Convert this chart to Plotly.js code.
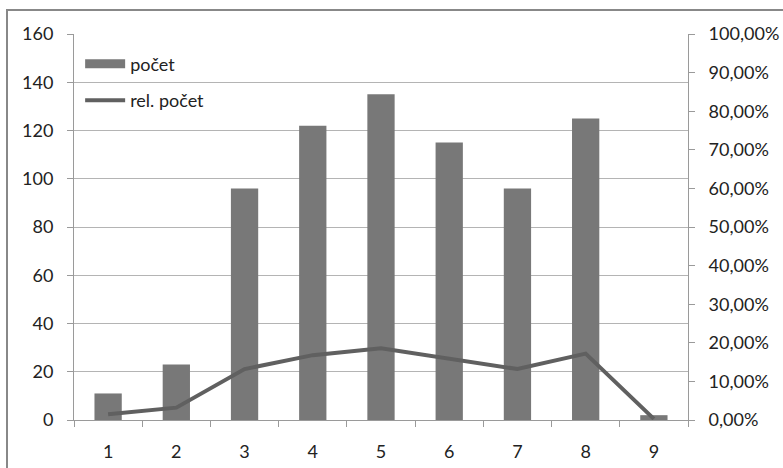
<!DOCTYPE html>
<html>
<head>
<meta charset="utf-8">
<script src="https://cdn.plot.ly/plotly-3.0.1.min.js"></script>
<style>
  html, body { margin: 0; padding: 0; background: #fff; }
  #wrap { position: relative; width: 783px; height: 468px; overflow: hidden; }
  #chart { position: absolute; left: 0; top: 0; width: 783px; height: 468px; }
  #frame { position: absolute; left: 6px; top: 9px; width: 820px; height: 520px;
           border: 2px solid #888; pointer-events: none; }
</style>
</head>
<body>
<div id="wrap"><div id="chart"></div><div id="frame"></div></div>
<script>
const categories = ['1', '2', '3', '4', '5', '6', '7', '8', '9'];
const pocet = [11, 23, 96, 122, 135, 115, 96, 125, 2];
const relPocet = [0.015, 0.032, 0.132, 0.168, 0.186, 0.159, 0.132, 0.172, 0.003];
const leftTicks = [0, 20, 40, 60, 80, 100, 120, 140, 160];
const rightTicks = [0, 0.1, 0.2, 0.3, 0.4, 0.5, 0.6, 0.7, 0.8, 0.9, 1.0];
const seriesNames = ['počet', 'rel. počet'];

const font = { family: 'Lato, "Open Sans", sans-serif', size: 18, color: '#222' };

const traces = [
  {
    type: 'bar', name: seriesNames[0], x: categories, y: pocet,
    marker: { color: '#787878', line: { width: 0 } },
    showlegend: false
  },
  {
    // legend key for the bar series (wide flat box like the original)
    type: 'scatter', mode: 'lines', name: seriesNames[0], x: [null], y: [null],
    line: { color: '#787878', width: 9 }, legendgroup: 'a', hoverinfo: 'skip'
  },
  {
    type: 'scatter', mode: 'lines', name: seriesNames[1], x: categories, y: relPocet,
    yaxis: 'y2', line: { color: '#606060', width: 4 },
    legendgroup: 'b'
  }
];

const layout = {
  width: 783, height: 468,
  margin: { l: 74, r: 95, t: 34, b: 48 },
  paper_bgcolor: '#fff', plot_bgcolor: '#fff',
  font: font,
  separators: ', ',
  bargap: 0.6,
  showlegend: true,
  legend: {
    x: 0.01, y: 0.97, xanchor: 'left', yanchor: 'top',
    bgcolor: 'rgba(0,0,0,0)', font: font,
    tracegroupgap: 10, itemwidth: 40
  },
  xaxis: {
    type: 'category', tickson: 'boundaries',
    ticks: 'outside', ticklen: 6, tickcolor: '#9a9a9a',
    ticklabelstandoff: 15,
    showline: true, linecolor: '#9a9a9a', linewidth: 1,
    showgrid: false, zeroline: false, fixedrange: true
  },
  yaxis: {
    range: [0, 160], tickvals: leftTicks,
    ticks: 'outside', ticklen: 6, tickcolor: '#9a9a9a',
    ticklabelstandoff: 10,
    showline: true, linecolor: '#9a9a9a', linewidth: 1,
    showgrid: true, gridcolor: '#b4b4b4', gridwidth: 1,
    zeroline: false, fixedrange: true
  },
  yaxis2: {
    overlaying: 'y', side: 'right',
    range: [0, 1], tickvals: rightTicks, tickformat: '.2%',
    ticks: 'outside', ticklen: 6, tickcolor: '#9a9a9a',
    ticklabelstandoff: 10,
    showline: true, linecolor: '#9a9a9a', linewidth: 1,
    showgrid: false, zeroline: false, fixedrange: true
  }
};

Plotly.newPlot('chart', traces, layout, { displayModeBar: false, staticPlot: true });
</script>
</body>
</html>
